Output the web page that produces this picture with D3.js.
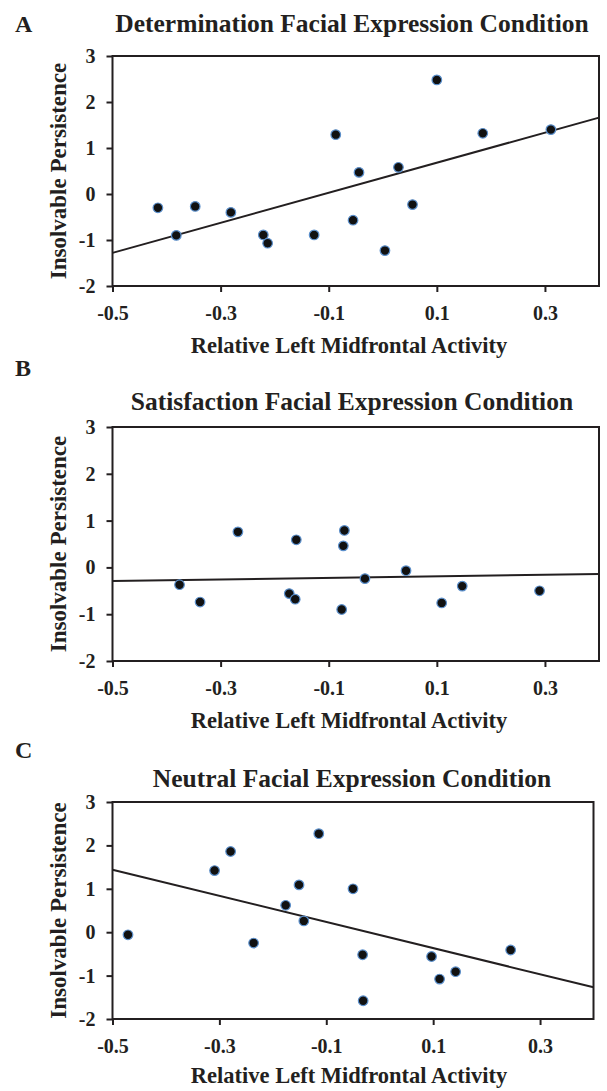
<!DOCTYPE html>
<html>
<head>
<meta charset="utf-8">
<script src="https://cdn.jsdelivr.net/npm/d3@7"></script>
<style>
  body { margin: 0; background: #fff; }
  text { font-family: "Liberation Serif", "Times New Roman", serif; font-weight: bold; fill: #231f20; }
</style>
</head>
<body>
<div class="canvas"></div>
<script>
// Data
const panel_letters = ["A", "B", "C"];
const panel_titles = [
  "Determination Facial Expression Condition",
  "Satisfaction Facial Expression Condition",
  "Neutral Facial Expression Condition"
];
const x_label = "Relative Left Midfrontal Activity";
const y_label = "Insolvable Persistence";
const x_ticks = [-0.5, -0.3, -0.1, 0.1, 0.3];
const y_ticks = [-2, -1, 0, 1, 2, 3];

const det_x = [-0.416, -0.382, -0.347, -0.281, -0.221, -0.213, -0.127, -0.087, -0.055, -0.044, 0.004, 0.029, 0.055, 0.100, 0.185, 0.311];
const det_y = [-0.30, -0.90, -0.27, -0.40, -0.89, -1.07, -0.89, 1.29, -0.57, 0.47, -1.23, 0.58, -0.23, 2.48, 1.32, 1.40];
const det_line = [[-0.5, -1.28], [0.4, 1.66]];

const sat_x = [-0.376, -0.338, -0.268, -0.173, -0.162, -0.160, -0.076, -0.073, -0.071, -0.033, 0.043, 0.109, 0.147, 0.290];
const sat_y = [-0.37, -0.74, 0.76, -0.56, -0.68, 0.59, -0.90, 0.46, 0.79, -0.24, -0.07, -0.76, -0.40, -0.50];
const sat_line = [[-0.5, -0.29], [0.4, -0.14]];

const neu_x = [-0.471, -0.309, -0.279, -0.236, -0.176, -0.151, -0.142, -0.114, -0.050, -0.032, -0.031, 0.097, 0.112, 0.142, 0.245];
const neu_y = [-0.06, 1.42, 1.86, -0.25, 0.62, 1.09, 0.26, 2.27, 1.00, -0.52, -1.58, -0.56, -1.08, -0.91, -0.41];
const neu_line = [[-0.5, 1.44], [0.4, -1.27]];

// Settings
const width = 607;
const height = 1091;
const dot_fill = "#111111";
const dot_stroke = "#5b8fcb";
const dot_radius = 4.8;
const axis_color = "#231f20";

// where each panel sits on the page
const panels = [
  { letter: panel_letters[0], title: panel_titles[0], xs: det_x, ys: det_y, line: det_line,
    left: 112.5, right: 599, top: 56, bottom: 286, title_y: 32, letter_y: 32, label_dy: 67 },
  { letter: panel_letters[1], title: panel_titles[1], xs: sat_x, ys: sat_y, line: sat_line,
    left: 112.5, right: 599, top: 427, bottom: 661, title_y: 410, letter_y: 376, label_dy: 67 },
  { letter: panel_letters[2], title: panel_titles[2], xs: neu_x, ys: neu_y, line: neu_line,
    left: 112.5, right: 593.5, top: 802, bottom: 1019, title_y: 787, letter_y: 758, label_dy: 64 }
];

const svg = d3.select(".canvas").append("svg")
  .attr("width", width)
  .attr("height", height);

panels.forEach(function(p) {
  const g = svg.append("g");

  const xScale = d3.scaleLinear().domain([-0.5, 0.4]).range([p.left, p.right]);
  const yScale = d3.scaleLinear().domain([-2, 3]).range([p.bottom, p.top]);

  // panel letter and title
  g.append("text")
    .attr("x", 15)
    .attr("y", p.letter_y)
    .attr("font-size", "24px")
    .text(p.letter);

  g.append("text")
    .attr("x", 352)
    .attr("y", p.title_y)
    .attr("text-anchor", "middle")
    .attr("font-size", "25.5px")
    .text(p.title);

  // frame
  g.append("rect")
    .attr("x", p.left)
    .attr("y", p.top)
    .attr("width", p.right - p.left)
    .attr("height", p.bottom - p.top)
    .attr("fill", "none")
    .attr("stroke", axis_color)
    .attr("stroke-width", 2);

  // axes
  const xAxis = g.append("g")
    .attr("transform", "translate(0," + p.bottom + ")")
    .call(d3.axisBottom(xScale).tickValues(x_ticks).tickSize(6).tickSizeOuter(0)
      .tickFormat(d => d.toFixed(1)));
  xAxis.select(".domain").remove();
  xAxis.selectAll("line").attr("stroke", axis_color).attr("stroke-width", 2);
  xAxis.selectAll("text")
    .attr("y", 20)
    .attr("font-size", "20px")
    .attr("fill", axis_color)
    .attr("font-family", null);

  const yAxis = g.append("g")
    .attr("transform", "translate(" + p.left + ",0)")
    .call(d3.axisLeft(yScale).tickValues(y_ticks).tickSize(6).tickSizeOuter(0)
      .tickFormat(d => String(d)));
  yAxis.select(".domain").remove();
  yAxis.selectAll("line").attr("stroke", axis_color).attr("stroke-width", 2);
  yAxis.selectAll("text")
    .attr("x", -17)
    .attr("font-size", "20px")
    .attr("fill", axis_color)
    .attr("font-family", null);

  // axis labels
  g.append("text")
    .attr("x", 349)
    .attr("y", p.bottom + p.label_dy)
    .attr("text-anchor", "middle")
    .attr("font-size", "22.5px")
    .text(x_label);

  g.append("text")
    .attr("transform", "translate(66," + ((p.top + p.bottom) / 2) + ") rotate(-90)")
    .attr("text-anchor", "middle")
    .attr("font-size", "23px")
    .text(y_label);

  // regression line
  g.append("line")
    .attr("x1", xScale(p.line[0][0]))
    .attr("y1", yScale(p.line[0][1]))
    .attr("x2", xScale(p.line[1][0]))
    .attr("y2", yScale(p.line[1][1]))
    .attr("stroke", axis_color)
    .attr("stroke-width", 2);

  // Adding the points
  g.selectAll("circle")
    .data(p.xs.map((x, i) => [x, p.ys[i]]))
    .enter()
    .append("circle")
    .attr("cx", d => xScale(d[0]))
    .attr("cy", d => yScale(d[1]))
    .attr("r", dot_radius)
    .attr("fill", dot_fill)
    .attr("stroke", dot_stroke)
    .attr("stroke-width", 1.2);
});
</script>
</body>
</html>
